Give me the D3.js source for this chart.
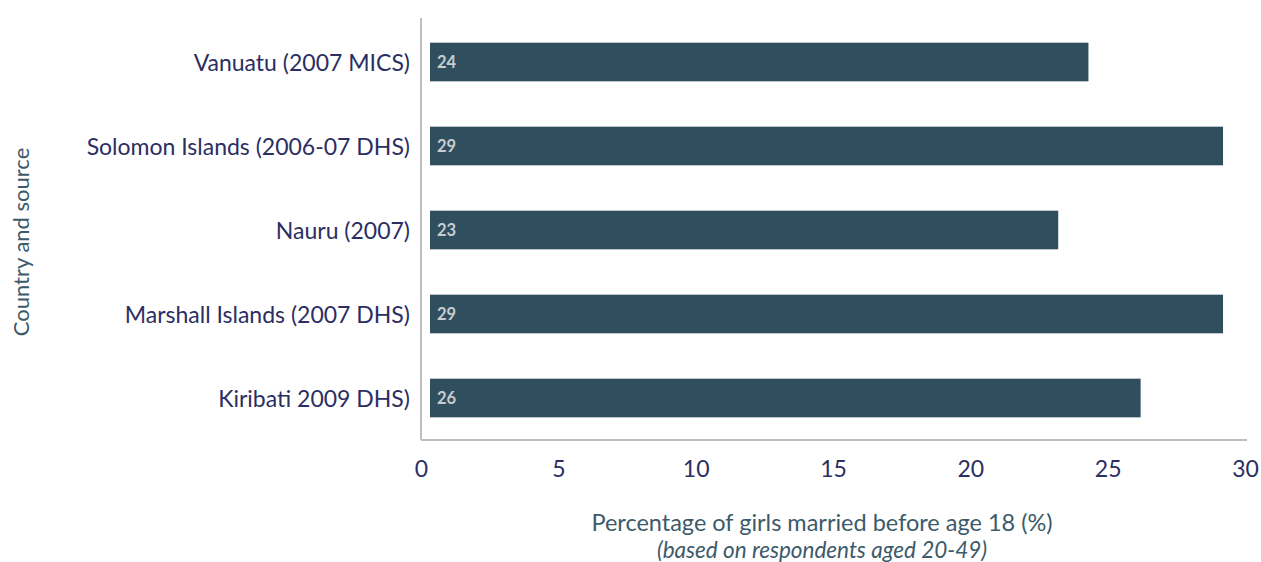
<!DOCTYPE html>
<html lang="en">
<head>
  <meta charset="UTF-8">
  <script src="https://d3js.org/d3.v7.min.js"></script>
  <title>Child marriage in the Pacific</title>
  <style>
  body { margin:0; background:#fff; }
  svg { display:block; font-family: Lato, "Open Sans", sans-serif; }
  .yAxis .tick text { font-family: Lato, sans-serif; font-size:23px; fill:#2b2e63; }
  .xAxis .tick text { font-family: Lato, sans-serif; font-size:23px; fill:#2b2e63; }
  .axisTitle { font-size:23.5px; fill:#3c5a69; }
  .barLabel { font-size:16.5px; font-weight:bold; fill:#c8cccf; }
  </style>
</head>
<body>
<svg id="chart" width="1261" height="562"></svg>
<script>
  // data
  const countries = ["Vanuatu (2007 MICS)", "Solomon Islands (2006-07 DHS)", "Nauru (2007)",
                     "Marshall Islands (2007 DHS)", "Kiribati 2009 DHS)"];
  const values = [24.3, 29.2, 23.2, 29.2, 26.2];
  const labels = ["24", "29", "23", "29", "26"];
  const xTicks = [0, 5, 10, 15, 20, 25, 30];

  const svg = d3.select("svg#chart");
  const margin = {top: 18, right: 14, bottom: 120, left: 421};
  const width = +svg.attr("width");
  const height = +svg.attr("height");
  const chartWidth = width - margin.left - margin.right;
  const chartHeight = height - margin.top - margin.bottom - 2;

  const xScale = d3.scaleLinear().domain([0, 30]).range([0, chartWidth - 2]);
  const yScale = d3.scaleBand().domain(countries).range([2, chartHeight]).paddingInner(0.54).paddingOuter(0.27);

  const chartArea = svg.append("g").attr("transform", `translate(${margin.left},${margin.top})`);

  // axes lines
  chartArea.append("line").attr("x1", 0).attr("x2", 0).attr("y1", 0).attr("y2", chartHeight)
    .attr("stroke", "#bfbfbf").attr("stroke-width", 2);
  chartArea.append("line").attr("x1", 0).attr("x2", xScale(30) + 2).attr("y1", chartHeight).attr("y2", chartHeight)
    .attr("stroke", "#bfbfbf").attr("stroke-width", 2);

  const yAxisG = chartArea.append("g").attr("class", "yAxis")
    .call(d3.axisLeft(yScale).tickSize(0).tickPadding(11));
  yAxisG.select(".domain").remove();
  yAxisG.selectAll(".tick text").attr("dy", "0.37em");

  const xAxisG = chartArea.append("g").attr("class", "xAxis")
    .attr("transform", `translate(0,${chartHeight})`)
    .call(d3.axisBottom(xScale).tickValues(xTicks).tickSize(0).tickPadding(21));
  xAxisG.select(".domain").remove();

  // bars start a little inside the axis, as in the original
  const inset = 9;
  chartArea.selectAll("rect.bar")
    .data(values)
    .join("rect")
    .attr("class", "bar")
    .attr("x", xScale(0) + inset)
    .attr("y", (d, i) => yScale(countries[i]))
    .attr("width", d => xScale(d) - xScale(0) - inset)
    .attr("height", yScale.bandwidth())
    .attr("fill", "#2f4f5f");

  chartArea.selectAll("text.barLabel")
    .data(labels)
    .join("text")
    .attr("class", "barLabel")
    .attr("x", xScale(0) + inset + 7)
    .attr("y", (d, i) => yScale(countries[i]) + yScale.bandwidth() / 2)
    .attr("dy", "0.36em")
    .text(d => d);

  // titles
  svg.append("text").attr("class", "axisTitle")
    .style("font-size", "22px")
    .attr("transform", `translate(29,${margin.top + chartHeight / 2 + 13}) rotate(-90)`)
    .attr("text-anchor", "middle")
    .text("Country and source");

  svg.append("text").attr("class", "axisTitle")
    .attr("x", 822).attr("y", 531)
    .attr("text-anchor", "middle")
    .text("Percentage of girls married before age 18 (%)");

  svg.append("text").attr("class", "axisTitle")
    .attr("x", 822).attr("y", 558)
    .attr("text-anchor", "middle")
    .style("font-style", "italic").style("font-size", "22.5px")
    .text("(based on respondents aged 20-49)");
</script>
</body>
</html>
